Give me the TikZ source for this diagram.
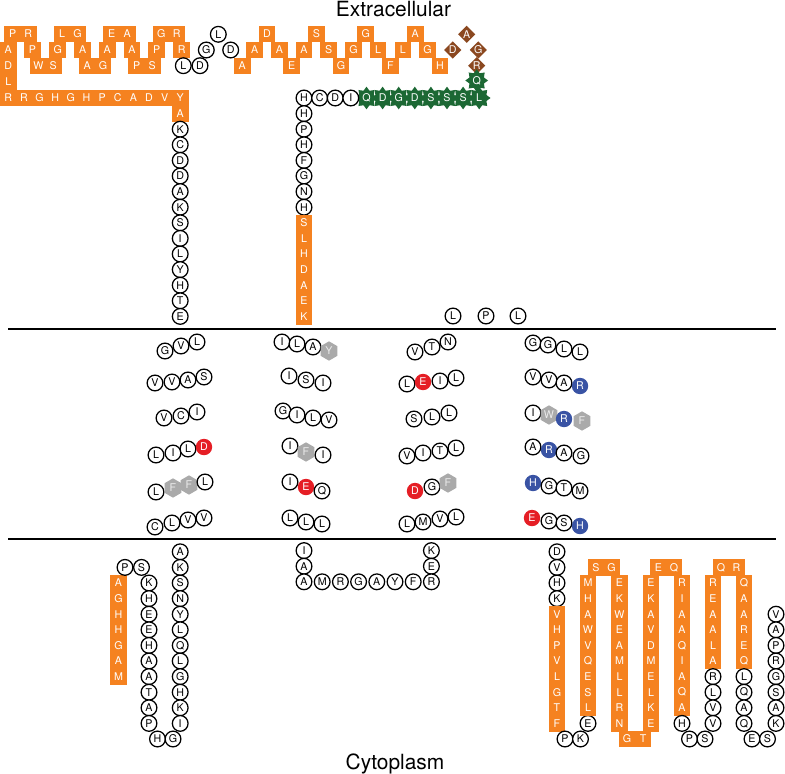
\documentclass[tikz,border=0pt]{standalone}
\usepackage{fontspec}
\setmainfont{TeX Gyre Heros}
\usepackage{tikz}
\usetikzlibrary{shapes,shapes.geometric,calc}

\definecolor{helixorange}{RGB}{245,130,32}
\definecolor{loopgreen}{RGB}{28,104,52}
\definecolor{tagbrown}{RGB}{139,72,32}
\definecolor{acidred}{RGB}{229,30,37}
\definecolor{basicblue}{RGB}{57,83,164}
\definecolor{aromgray}{RGB}{170,170,170}

\begin{document}
\begin{tikzpicture}[x=0.75pt,y=-0.75pt,
        every node/.style={inner sep=0pt,font=\fontsize{8}{9}\selectfont},
        res/.style={circle,draw=black,line width=0.95pt,fill=white,minimum size=11.8pt},
        helix/.style={rectangle,fill=helixorange,text=white,minimum width=12.5pt,minimum height=12.2pt},
        tag/.style={diamond,aspect=1,fill=tagbrown,text=white,minimum size=13pt},
        flag/.style={star,star points=8,star point ratio=1.45,fill=loopgreen,text=white,minimum size=17pt},
        acid/.style={circle,fill=acidred,text=white,minimum size=12.3pt},
        basic/.style={circle,fill=basicblue,text=white,minimum size=12.3pt},
        arom/.style={regular polygon,regular polygon sides=6,shape border rotate=30,fill=aromgray,text=gray!15,minimum size=14.5pt},
        side/.style={font=\fontsize{15.7}{18}\selectfont},
        membrane/.style={line width=1.3pt}]

    \useasboundingbox (0,0) rectangle (785,774);

    % Step between stacked residues
    \def\dy{15.6}

    % ---- membrane ----
    \draw[membrane] (8,329) -- (776,329);
    \draw[membrane] (8,539) -- (776,539);

    \node[side,anchor=base] (extra) at (393.5,17) {Extracellular};
    \node[side,anchor=base] (cyto) at (395,769) {Cytoplasm};

    % ---- N-terminal loop ----

    % zig-zag
    \foreach \x/\y/\t [count=\i] in {12.7/34/P, 28.2/34/R, 62/34/L, 77.6/34/G,
            111.6/34/E, 127.2/34/A, 161.2/34/G, 176.8/34/R,
            8.3/50/A, 32.5/50/P, 57.7/50/G, 82.6/50/A, 107.3/50/A, 132/50/A,
            156.8/50/P, 181.6/50/R,
            8.3/66/D, 38.3/66/W, 53.3/66/S, 87.3/66/A, 102.9/66/G, 136.8/66/P,
            152.3/66/S, 8.3/82/L}
        \node[helix] (nz\i) at (\x,\y) {\t};

    % bottom row
    \foreach \t [count=\i from 0] in {R,R,G,H,G,H,P,C,A,D,V,Y}
        \node[helix] (nr\i) at ({8.3+15.63*\i},98) {\t};
    \node[helix] (na) at (180.2,113.6) {A};

    % down to the membrane
    \foreach \t [count=\i from 0] in {K,C,D,D,A,K,S,I,L,Y,H,T,E}
        \node[res] (nc\i) at (180.2,{129.2+\dy*\i}) {\t};

    % ---- loop after the N-terminal zig-zag ----
    \node[res] (lk1) at (183.3,65.7) {L};
    \node[res] (lk2) at (200,65.7) {D};
    \node[res] (lk3) at (206.3,50) {G};
    \node[res] (lk4) at (218.3,34.3) {L};
    \node[res] (lk5) at (230.7,50) {D};

    % second zig-zag
    \foreach \t [count=\i from 0] in {A,A,D,A,E,A,S,S,G,G,G,L,F,L,A,G,H}{
        \pgfmathsetmacro\yy{50-16*sin(90*(\i-1))}
        \node[helix] (nm\i) at ({242.3+12.35*\i},\yy) {\t};
    }

    % tag
    \node[tag] (tg1) at (452.7,50) {D};
    \node[tag] (tg2) at (466.7,34.3) {A};
    \node[tag] (tg3) at (478.3,50) {G};
    \node[tag] (tg4) at (476.7,65.7) {R};

    % flag
    \node[flag] (flq) at (476.7,80.5) {Q};
    \foreach \t [count=\i from 0] in {Q,D,G,D,S,S,S,L}
        \node[flag] (fl\i) at ({366.5+16.1*\i},98) {\t};

    % back down
    \foreach \t [count=\i from 0] in {H,C,D,I}
        \node[res] (hc\i) at ({304+15.6*\i},98) {\t};
    \foreach \t [count=\i from 1] in {H,P,H,F,G,N,H}
        \node[res] (hv\i) at (304,{98+\dy*\i}) {\t};
    \foreach \t [count=\i from 8] in {S,L,H,D,A,E,K}
        \node[helix] (hh\i) at (304,{98+\dy*\i}) {\t};

    \node[res] (lp1) at (453,316) {L};
    \node[res] (lp2) at (486,316) {P};
    \node[res] (lp3) at (518,316) {L};

    % ---- transmembrane helices ----

    % helix 1
    \foreach \x/\y/\s/\t [count=\i] in {
            165/351/res/G, 181/346/res/V, 197/342/res/L,
            155/383/res/V, 172/382/res/V, 188/380/res/A, 204/377/res/S,
            164/418/res/V, 181/416/res/C, 197/412/res/I,
            156/455/res/L, 173/453/res/I, 188/449/res/L, 204/447/acid/D,
            156/492/res/L, 173/488/arom/F, 189/485/arom/F, 205/482/res/L,
            155/527/res/C, 172/523/res/L, 188/520/res/V, 204/518/res/V}
        \node[\s] (tma\i) at (\x,\y) {\t};

    % helix 2
    \foreach \x/\y/\s/\t [count=\i] in {
            282/342/res/I, 297/344/res/L, 313/347/res/A, 329/351/arom/Y,
            289/376/res/I, 306/380/res/S, 323/383/res/I,
            283/411/res/G, 297/415/res/I, 313/418/res/L, 329/420/res/V,
            290/446/res/I, 306/452/arom/F, 323/455/res/I,
            290/482/res/I, 306/487/acid/E, 322/491/res/Q,
            290/518/res/L, 306/522/res/L, 322/524/res/L}
        \node[\s] (tmb\i) at (\x,\y) {\t};

    % helix 3
    \foreach \x/\y/\s/\t [count=\i] in {
            415/352/res/V, 432/347/res/T, 448/342/res/N,
            407/384/res/L, 423/382/acid/E, 440/381/res/I, 456/378/res/L,
            414/419/res/S, 432/417/res/L, 449/413/res/L,
            407/456/res/V, 423/453/res/I, 440/451/res/T, 456/448/res/L,
            415/491/acid/D, 432/487/res/G, 448/483/arom/F,
            407/524/res/L, 423/522/res/M, 440/519/res/V, 456/517/res/L}
        \node[\s] (tmc\i) at (\x,\y) {\t};

    % helix 4
    \foreach \x/\y/\s/\t [count=\i] in {
            533/343/res/G, 548/345/res/G, 564/349/res/L, 580/352/res/L,
            533/377/res/V, 549/380/res/V, 564/383/res/A, 580/386/basic/R,
            533/413/res/I, 549/415/arom/W, 564/419/basic/R, 582/421/arom/F,
            533/447/res/A, 549/450/basic/R, 564/453/res/A, 581/456/res/G,
            533/483/basic/H, 549/486/res/G, 564/488/res/T, 580/491/res/M,
            532/518/acid/E, 549/521/res/G, 564/523/res/S, 580/526/basic/H}
        \node[\s] (tmd\i) at (\x,\y) {\t};

    % ---- cytoplasmic side ----

    % first loop
    \foreach \t [count=\i from 0] in {A,G,H,H,G,A,M}
        \node[helix] (ba\i) at (118.5,{583+\dy*\i}) {\t};
    \node[res] (bp) at (125,567.4) {P};
    \node[res] (bs) at (141.5,567.4) {S};
    \foreach \t [count=\i from 0] in {K,H,E,E,H,A,A,T,A,P}
        \node[res] (bk\i) at (149,{583+\dy*\i}) {\t};
    \node[res] (bh) at (157.5,739) {H};
    \node[res] (bg) at (173,739) {G};
    \foreach \t [count=\i from 0] in {A,K,S,N,Y,L,Q,L,G,H,K,I}
        \node[res] (bi\i) at (180.2,{551.8+\dy*\i}) {\t};

    % second loop
    \foreach \t [count=\i from 0] in {I,A,A}
        \node[res] (ia\i) at (304,{550.6+\dy*\i}) {\t};
    \foreach \t [count=\i from 1] in {M,R,G,A,Y,F}
        \node[res] (ir\i) at ({304+18.2*\i},581.8) {\t};
    \foreach \t [count=\i from 0] in {K,E,R}
        \node[res] (ik\i) at (431.4,{550.6+\dy*\i}) {\t};

    % C-terminal tail
    \foreach \t [count=\i from 0] in {D,V,H,K}
        \node[res] (ca\i) at (557,{551.8+\dy*\i}) {\t};
    \foreach \t [count=\i from 0] in {V,H,P,V,L,G,T,F}
        \node[helix] (cb\i) at (557,{614.2+\dy*\i}) {\t};
    \node[res] (cp1) at (565,739) {P};
    \node[res] (ck1) at (580.5,739) {K};
    \node[res] (ce1) at (588,723.4) {E};

    \foreach \t [count=\i from 0] in {M,H,A,W,V,Q,E,S,L}
        \node[helix] (cc\i) at (588,{583+\dy*\i}) {\t};
    \node[helix] (cs1) at (596,567.4) {S};
    \node[helix] (cg1) at (611.5,567.4) {G};
    \foreach \t [count=\i from 0] in {E,K,W,E,A,M,L,L,R,N}
        \node[helix] (cd\i) at (619.5,{583+\dy*\i}) {\t};
    \node[helix] (cg2) at (627,739) {G};
    \node[helix] (ct2) at (643,739) {T};
    \foreach \t [count=\i from 0] in {E,K,A,V,D,M,E,L,K,E}
        \node[helix] (cf\i) at (651,{583+\dy*\i}) {\t};
    \node[helix] (ce2) at (658.5,567.4) {E};
    \node[helix] (cq2) at (674,567.4) {Q};
    \foreach \t [count=\i from 0] in {R,I,A,A,Q,I,A,Q,A}
        \node[helix] (cr\i) at (682,{583+\dy*\i}) {\t};
    \node[res] (ch3) at (682,723.4) {H};
    \node[res] (cp3) at (689.5,739) {P};
    \node[res] (cs3) at (705,739) {S};

    \foreach \t [count=\i from 0] in {R,E,A,A,L,A}
        \node[helix] (cu\i) at (713,{583+\dy*\i}) {\t};
    \foreach \t [count=\i from 6] in {R,L,V,V}
        \node[res] (cu\i) at (713,{583+\dy*\i}) {\t};
    \node[helix] (cq4) at (721,567.4) {Q};
    \node[helix] (cr4) at (736.5,567.4) {R};
    \foreach \t [count=\i from 0] in {Q,A,A,R,E,Q}
        \node[helix] (cw\i) at (744,{583+\dy*\i}) {\t};
    \foreach \t [count=\i from 6] in {L,Q,A,Q}
        \node[res] (cw\i) at (744,{583+\dy*\i}) {\t};
    \node[res] (ce5) at (752,739) {E};
    \node[res] (cs5) at (767.5,739) {S};
    \foreach \t [count=\i from 0] in {V,A,P,R,G,S,A,K}
        \node[res] (cz\i) at (776,{614.2+\dy*\i}) {\t};

\end{tikzpicture}
\end{document}
